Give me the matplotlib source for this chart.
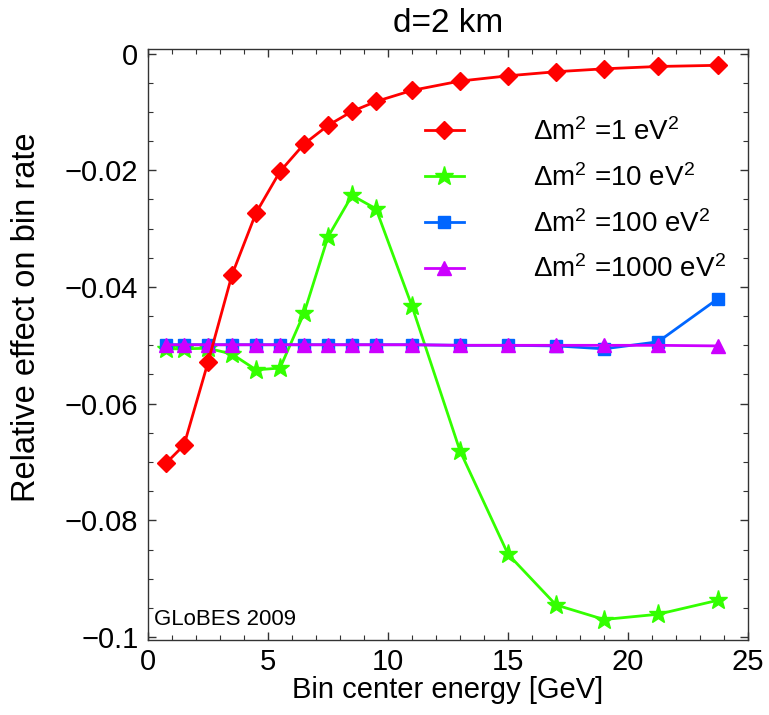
import matplotlib
matplotlib.use("Agg")
import matplotlib.pyplot as plt
from matplotlib.ticker import MultipleLocator

plt.rcParams['font.family'] = ['Liberation Sans', 'DejaVu Sans']
plt.rcParams['mathtext.default'] = 'regular'

energy = [0.75, 1.5, 2.5, 3.5, 4.5, 5.5, 6.5, 7.5, 8.5, 9.5, 11, 13, 15, 17, 19, 21.25, 23.75]

dm1 = [-0.0702, -0.0671, -0.0529, -0.0379, -0.0273, -0.0202, -0.0155, -0.0123, -0.0099,
       -0.0082, -0.0063, -0.0047, -0.0038, -0.0031, -0.0026, -0.0022, -0.0020]
dm10 = [-0.0506, -0.0506, -0.0505, -0.0515, -0.0542, -0.0539, -0.0445, -0.0314, -0.0243,
        -0.0266, -0.0433, -0.0681, -0.0858, -0.0945, -0.0970, -0.0961, -0.0937]
dm100 = [-0.0499, -0.0499, -0.0499, -0.0499, -0.0499, -0.0499, -0.0499, -0.0499, -0.0499,
         -0.0499, -0.0499, -0.0500, -0.0500, -0.0501, -0.0506, -0.0494, -0.0420]
dm1000 = [-0.0499, -0.0499, -0.0499, -0.0499, -0.0499, -0.0499, -0.0499, -0.0499, -0.0499,
          -0.0499, -0.0499, -0.0500, -0.0500, -0.0500, -0.0500, -0.0500, -0.0501]

labels = ['Δm$^2$ =1 eV$^2$', 'Δm$^2$ =10 eV$^2$', 'Δm$^2$ =100 eV$^2$', 'Δm$^2$ =1000 eV$^2$']
yticks = [0, -0.02, -0.04, -0.06, -0.08, -0.1]
yticklabels = ['0', '−0.02', '−0.04', '−0.06', '−0.08', '−0.1']
xticks = [0, 5, 10, 15, 20, 25]

fig = plt.figure(figsize=(7.69, 7.15), dpi=100)
ax = fig.add_axes([0.1925, 0.105, 0.7802, 0.8265])

lw = 2.0
ax.plot(energy, dm1, color='#ff0000', lw=lw, marker='D', ms=9, label=labels[0], zorder=3)
ax.plot(energy, dm10, color='#33ff00', lw=lw, marker='*', ms=14, label=labels[1], zorder=2)
ax.plot(energy, dm100, color='#0066ff', lw=lw, marker='s', ms=9, label=labels[2], zorder=2.5)
ax.plot(energy, dm1000, color='#cc00ff', lw=lw, marker='^', ms=10, label=labels[3], zorder=2.6)

ax.set_xlim(0, 25)
ax.set_ylim(-0.1005, 0.0008)
ax.set_xticks(xticks)
ax.set_xticklabels([str(t) for t in xticks])
ax.set_yticks(yticks)
ax.set_yticklabels(yticklabels)
ax.xaxis.set_minor_locator(MultipleLocator(1))
ax.yaxis.set_minor_locator(MultipleLocator(0.005))
ax.tick_params(which='both', direction='in', top=True, right=True, labelsize=21, color='#333333')
ax.tick_params(which='major', length=6, width=1)
ax.tick_params(which='minor', length=3.5, width=0.8)
ax.tick_params(axis='x', which='major', pad=6)
ax.tick_params(axis='y', which='major', pad=7)
for s in ax.spines.values():
    s.set_color('#333333')
    s.set_linewidth(1.0)

ax.set_xlabel('Bin center energy [GeV]', fontsize=21, labelpad=0)
ax.set_ylabel('Relative effect on bin rate', fontsize=23.5)
ax.yaxis.set_label_coords(-0.176, 0.5465)
ax.set_title('d=2 km', fontsize=24, pad=12)

ax.text(0.01, 0.017, 'GLoBES 2009', transform=ax.transAxes, fontsize=16, ha='left', va='bottom')

ax.legend(loc='upper left', bbox_to_anchor=(0.4617, 0.883), borderaxespad=0, borderpad=0,
          frameon=False, fontsize=20,
          handlelength=1.4, handletextpad=2.5, labelspacing=0.65, numpoints=1)

fig.savefig('out.png', dpi=100)
